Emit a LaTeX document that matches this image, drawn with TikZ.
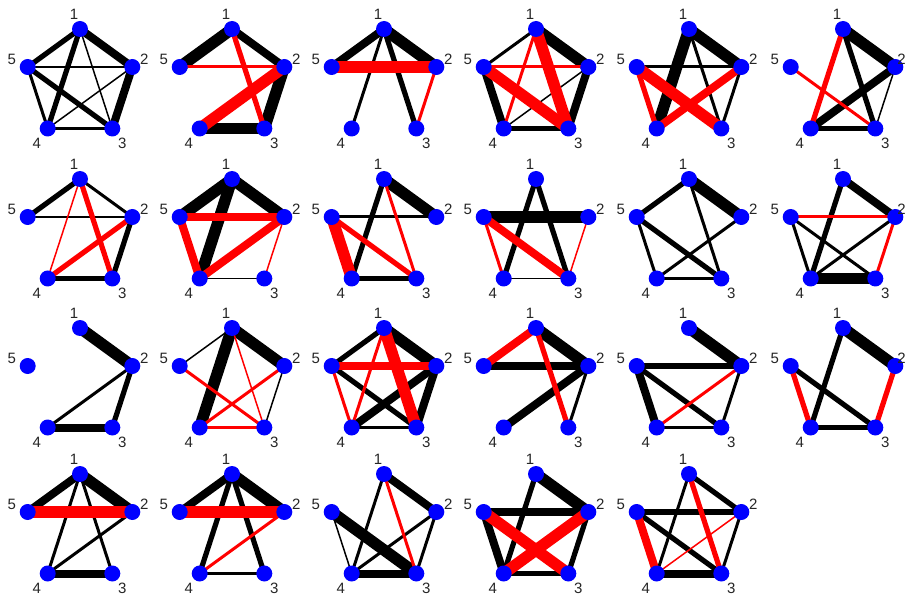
\documentclass[tikz,border=0pt]{standalone}
\usepackage{fontspec}
\setmainfont{Liberation Sans}
\pgfdeclarelayer{bg}
\pgfsetlayers{bg,main}
\tikzset{
  vtx/.style={circle,fill=blue,draw=none,minimum size=16pt,inner sep=0pt},
  lbl/.style={inner sep=0pt,font=\fontsize{15}{15}\selectfont,text=black!85},
  bk/.style={draw=black},
  rd/.style={draw=red},
  w1/.style={line width=1.5pt},
  w2/.style={line width=3pt},
  w3/.style={line width=5.2pt},
  w4/.style={line width=8pt},
  w5/.style={line width=11.5pt}
}
% [#1 x offset of label 2], #2 id, #3 cx, #4 cy
\newcommand\mkpanel[4][64.3]{%
  \node[vtx] (#2n1) at (#3+0,#4-55) {};
  \node[vtx] (#2n2) at (#3+52.3,#4-17) {};
  \node[vtx] (#2n3) at (#3+32.3,#4+44.5) {};
  \node[vtx] (#2n4) at (#3-32.3,#4+44.5) {};
  \node[vtx] (#2n5) at (#3-52.3,#4-17) {};
  \node[lbl] (#2l1) at (#3-6,#4-70) {1};
  \node[lbl] (#2l2) at (#3+#1,#4-25) {2};
  \node[lbl] (#2l3) at (#3+42.3,#4+59.5) {3};
  \node[lbl] (#2l4) at (#3-43.3,#4+59.5) {4};
  \node[lbl] (#2l5) at (#3-68.3,#4-25) {5};
}
\newcommand\E[4]{\draw[#4] (#1n#2.center) -- (#1n#3.center);}
\begin{document}
\begin{tikzpicture}[x=1pt,y=-1pt]
\begin{pgfonlayer}{bg}
\fill[white] (0,0) rectangle (908,596);
\end{pgfonlayer}
\useasboundingbox (0,0) rectangle (908,596);
\mkpanel{P1}{80}{84}
\mkpanel{P2}{232}{84}
\mkpanel{P3}{384}{84}
\mkpanel{P4}{536}{84}
\mkpanel{P5}{689}{84}
\mkpanel[58.5]{P6}{843}{84}
\mkpanel{P7}{80}{234}
\mkpanel{P8}{232}{234}
\mkpanel{P9}{384}{234}
\mkpanel{P10}{536}{234}
\mkpanel{P11}{689}{234}
\mkpanel[58.5]{P12}{843}{234}
\mkpanel{P13}{80}{383}
\mkpanel{P14}{232}{383}
\mkpanel{P15}{384}{383}
\mkpanel{P16}{536}{383}
\mkpanel{P17}{689}{383}
\mkpanel[58.5]{P18}{843}{383}
\mkpanel{P19}{80}{529}
\mkpanel{P20}{232}{529}
\mkpanel{P21}{384}{529}
\mkpanel{P22}{536}{529}
\mkpanel{P23}{689}{529}
\begin{pgfonlayer}{bg}
% P1
\E{P1}12{bk,w4}\E{P1}15{bk,w3}\E{P1}14{bk,w3}\E{P1}13{bk,w1}\E{P1}52{bk,w1}
\E{P1}54{bk,w2}\E{P1}53{bk,w3}\E{P1}23{bk,w4}\E{P1}24{bk,w1}\E{P1}43{bk,w2}
% P2
\E{P2}15{bk,w5}\E{P2}12{bk,w4}\E{P2}23{bk,w5}\E{P2}43{bk,w5}
\E{P2}13{rd,w3}\E{P2}52{rd,w2}\E{P2}24{rd,w5}
% P3
\E{P3}15{bk,w4}\E{P3}12{bk,w5}\E{P3}14{bk,w2}\E{P3}13{bk,w3}
\E{P3}52{rd,w5}\E{P3}23{rd,w2}
% P4
\E{P4}15{bk,w2}\E{P4}12{bk,w5}\E{P4}54{bk,w4}\E{P4}24{bk,w1}\E{P4}23{bk,w4}\E{P4}43{bk,w3}
\E{P4}14{rd,w2}\E{P4}13{rd,w5}\E{P4}52{rd,w2}\E{P4}53{rd,w5}
% P5
\E{P5}12{bk,w5}\E{P5}14{bk,w5}\E{P5}13{bk,w2}\E{P5}52{bk,w2}\E{P5}23{bk,w2}
\E{P5}54{rd,w3}\E{P5}53{rd,w5}\E{P5}24{rd,w4}
% P6
\E{P6}12{bk,w5}\E{P6}13{bk,w3}\E{P6}24{bk,w4}\E{P6}23{bk,w1}\E{P6}43{bk,w3}
\E{P6}14{rd,w3}\E{P6}53{rd,w2}
% P7
\E{P7}15{bk,w3}\E{P7}12{bk,w2}\E{P7}52{bk,w1}\E{P7}23{bk,w3}\E{P7}43{bk,w3}
\E{P7}14{rd,w1}\E{P7}13{rd,w3}\E{P7}24{rd,w3}
% P8
\E{P8}15{bk,w5}\E{P8}12{bk,w5}\E{P8}14{bk,w5}\E{P8}43{bk,w1}
\E{P8}52{rd,w4}\E{P8}54{rd,w4}\E{P8}24{rd,w4}\E{P8}23{rd,w1}
% P9
\E{P9}12{bk,w5}\E{P9}14{bk,w3}\E{P9}52{bk,w2}\E{P9}43{bk,w3}
\E{P9}13{rd,w2}\E{P9}54{rd,w5}\E{P9}53{rd,w3}
% P10
\E{P10}14{bk,w3}\E{P10}13{bk,w3}\E{P10}52{bk,w5}\E{P10}43{bk,w1}
\E{P10}54{rd,w2}\E{P10}53{rd,w4}\E{P10}23{rd,w1}
% P11
\E{P11}15{bk,w3}\E{P11}12{bk,w5}\E{P11}13{bk,w2}\E{P11}54{bk,w2}\E{P11}53{bk,w3}
\E{P11}24{bk,w2}\E{P11}43{bk,w2}
% P12
\E{P12}12{bk,w4}\E{P12}14{bk,w3}\E{P12}54{bk,w2}\E{P12}53{bk,w2}\E{P12}24{bk,w2}\E{P12}43{bk,w5}
\E{P12}52{rd,w2}\E{P12}23{rd,w2}
% P13
\E{P13}12{bk,w5}\E{P13}24{bk,w2}\E{P13}23{bk,w3}\E{P13}43{bk,w4}
% P14
\E{P14}15{bk,w1}\E{P14}12{bk,w5}\E{P14}14{bk,w5}\E{P14}23{bk,w1}
\E{P14}13{rd,w1}\E{P14}53{rd,w2}\E{P14}24{rd,w2}\E{P14}43{rd,w2}
% P15
\E{P15}15{bk,w3}\E{P15}12{bk,w5}\E{P15}53{bk,w3}\E{P15}24{bk,w4}\E{P15}23{bk,w4}\E{P15}43{bk,w2}
\E{P15}14{rd,w2}\E{P15}13{rd,w5}\E{P15}52{rd,w4}\E{P15}54{rd,w2}
% P16
\E{P16}12{bk,w5}\E{P16}52{bk,w4}\E{P16}24{bk,w4}\E{P16}23{bk,w2}
\E{P16}15{rd,w4}\E{P16}13{rd,w3}
% P17
\E{P17}12{bk,w5}\E{P17}52{bk,w3}\E{P17}54{bk,w4}\E{P17}53{bk,w3}\E{P17}23{bk,w2}\E{P17}43{bk,w2}
\E{P17}24{rd,w2}
% P18
\E{P18}12{bk,w5}\E{P18}14{bk,w3}\E{P18}53{bk,w3}\E{P18}43{bk,w3}
\E{P18}54{rd,w3}\E{P18}23{rd,w3}
% P19
\E{P19}15{bk,w4}\E{P19}12{bk,w5}\E{P19}14{bk,w2}\E{P19}13{bk,w2}\E{P19}24{bk,w2}\E{P19}43{bk,w4}
\E{P19}52{rd,w5}
% P20
\E{P20}15{bk,w4}\E{P20}12{bk,w5}\E{P20}14{bk,w3}\E{P20}13{bk,w3}\E{P20}43{bk,w2}
\E{P20}52{rd,w5}\E{P20}24{rd,w2}
% P21
\E{P21}12{bk,w4}\E{P21}14{bk,w2}\E{P21}54{bk,w1}\E{P21}53{bk,w5}\E{P21}24{bk,w2}\E{P21}23{bk,w2}\E{P21}43{bk,w4}
\E{P21}13{rd,w2}
% P22
\E{P22}12{bk,w5}\E{P22}14{bk,w3}\E{P22}52{bk,w4}\E{P22}54{bk,w4}\E{P22}23{bk,w3}\E{P22}43{bk,w3}
\E{P22}53{rd,w5}\E{P22}24{rd,w5}
% P23
\E{P23}12{bk,w3}\E{P23}14{bk,w2}\E{P23}52{bk,w3}\E{P23}53{bk,w3}\E{P23}23{bk,w2}\E{P23}43{bk,w4}
\E{P23}13{rd,w3}\E{P23}54{rd,w4}\E{P23}24{rd,w1}
\end{pgfonlayer}
\end{tikzpicture}
\end{document}
